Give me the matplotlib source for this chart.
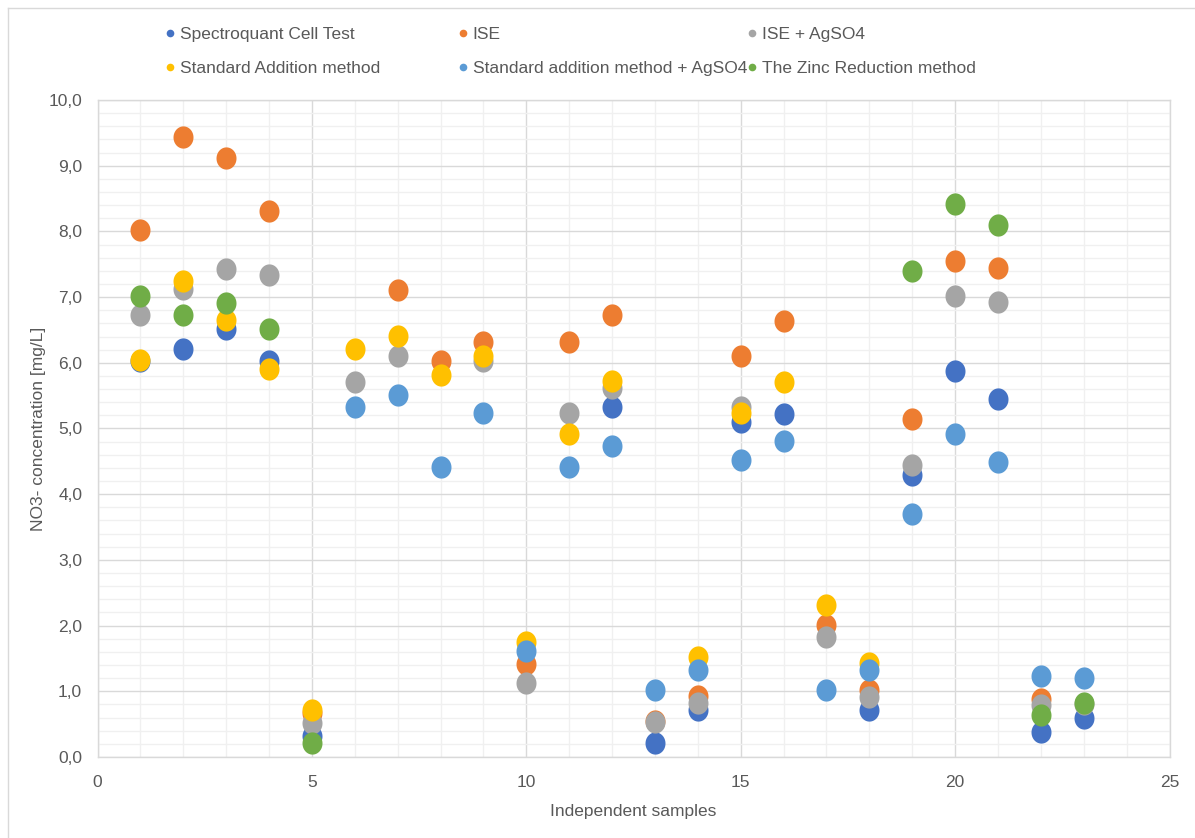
import numpy as np
import matplotlib
matplotlib.use('Agg')
import matplotlib.pyplot as plt
from matplotlib.lines import Line2D
from matplotlib.ticker import MultipleLocator, FuncFormatter

nan = np.nan

samples = list(range(1, 24))

spectroquant = [6.02, 6.21, 6.52, 6.03, 0.32, nan, nan, nan, nan, nan, nan, 5.33,
                0.22, 0.71, 5.10, 5.22, nan, 0.71, 4.29, 5.88, 5.45, 0.38, 0.60]
ise = [8.02, 9.43, 9.11, 8.31, 0.67, nan, 7.11, 6.03, 6.32, 1.42, 6.31, 6.73,
       0.55, 0.93, 6.10, 6.63, 2.01, 1.02, 5.14, 7.55, 7.45, 0.89, nan]
ise_agso4 = [6.73, 7.12, 7.43, 7.33, 0.52, 5.71, 6.10, nan, 6.02, 1.13, 5.23, 5.61,
             0.53, 0.82, 5.33, nan, 1.82, 0.92, 4.44, 7.01, 6.93, 0.79, 0.80]
std_addition = [6.05, 7.25, 6.65, 5.90, 0.72, 6.21, 6.41, 5.82, 6.10, 1.75, 4.91, 5.73,
                nan, 1.52, 5.23, 5.71, 2.32, 1.43, nan, nan, nan, nan, nan]
std_addition_agso4 = [nan, nan, nan, nan, nan, 5.33, 5.51, 4.42, 5.23, 1.62, 4.42, 4.73,
                      1.02, 1.33, 4.52, 4.81, 1.02, 1.33, 3.70, 4.92, 4.49, 1.23, 1.21]
zinc = [7.02, 6.73, 6.91, 6.52, 0.22, nan, nan, nan, nan, nan, nan, nan,
        nan, nan, nan, nan, nan, nan, 7.40, 8.42, 8.10, 0.64, 0.82]

series = [
    ('Spectroquant Cell Test', spectroquant, '#4472C4'),
    ('ISE', ise, '#ED7D31'),
    ('ISE + AgSO4', ise_agso4, '#A5A5A5'),
    ('Standard Addition method', std_addition, '#FFC000'),
    ('Standard addition method + AgSO4', std_addition_agso4, '#5B9BD5'),
    ('The Zinc Reduction method', zinc, '#70AD47'),
]

plt.rcParams['font.family'] = ['Liberation Sans', 'DejaVu Sans']
txt = '#595959'

W, H = 1195, 838
fig = plt.figure(figsize=(W / 100, H / 100), dpi=100)
ax = fig.add_axes([97.5 / W, 1 - 757 / H, (1169.5 - 97.5) / W, (757 - 100) / H])

# excel-like oval marker, a bit taller than wide
t = np.linspace(0, 2 * np.pi, 60)
oval = list(zip(0.45 * np.cos(t), 0.5 * np.sin(t)))

for name, vals, col in series:
    ax.plot(samples, vals, linestyle='none', marker=oval, ms=16,
            mfc=col, mec='none', zorder=3)

ax.set_xlim(0, 25)
ax.set_ylim(0, 10)
ax.xaxis.set_major_locator(MultipleLocator(5))
ax.xaxis.set_minor_locator(MultipleLocator(1))
ax.yaxis.set_major_locator(MultipleLocator(1))
ax.yaxis.set_minor_locator(MultipleLocator(0.2))
ax.yaxis.set_major_formatter(FuncFormatter(lambda v, p: f'{v:.1f}'.replace('.', ',')))
ax.grid(which='minor', color='#F0F0F0', lw=1.0, zorder=0)
ax.grid(which='major', color='#D9D9D9', lw=1.0, zorder=1)
ax.set_axisbelow(True)
for s in ax.spines.values():
    s.set_color('#D9D9D9')
    s.set_linewidth(1.0)
ax.tick_params(which='both', length=0, labelsize=12.5, labelcolor=txt)
ax.tick_params(axis='y', pad=11)
ax.tick_params(axis='x', pad=13)

ax.set_xlabel('Independent samples', fontsize=12.5, color=txt, labelpad=10)
ax.set_ylabel('NO3- concentration [mg/L]', fontsize=12.5, color=txt, labelpad=2)

# legend: three columns placed like the excel layout
cols = [(0, 3, 165), (1, 4, 458), (2, 5, 747)]
for i, j, xpx in cols:
    hs = [Line2D([], [], linestyle='none', marker='o', ms=5.5, mfc=series[k][2], mec='none')
          for k in (i, j)]
    fig.legend(hs, [series[i][0], series[j][0]], loc='upper left',
               bbox_to_anchor=(xpx / W, 1 - 27 / H), frameon=False,
               fontsize=12.5, labelcolor=txt, handlelength=0.6, handletextpad=0.25,
               labelspacing=1.1, borderpad=0, borderaxespad=0)

# chart area border
fig.add_artist(Line2D([8 / W, 8 / W], [0, 1 - 8 / H], color='#D9D9D9', lw=1.0))
fig.add_artist(Line2D([8 / W, 1], [1 - 8 / H, 1 - 8 / H], color='#D9D9D9', lw=1.0))

fig.savefig('out.png', dpi=100)
